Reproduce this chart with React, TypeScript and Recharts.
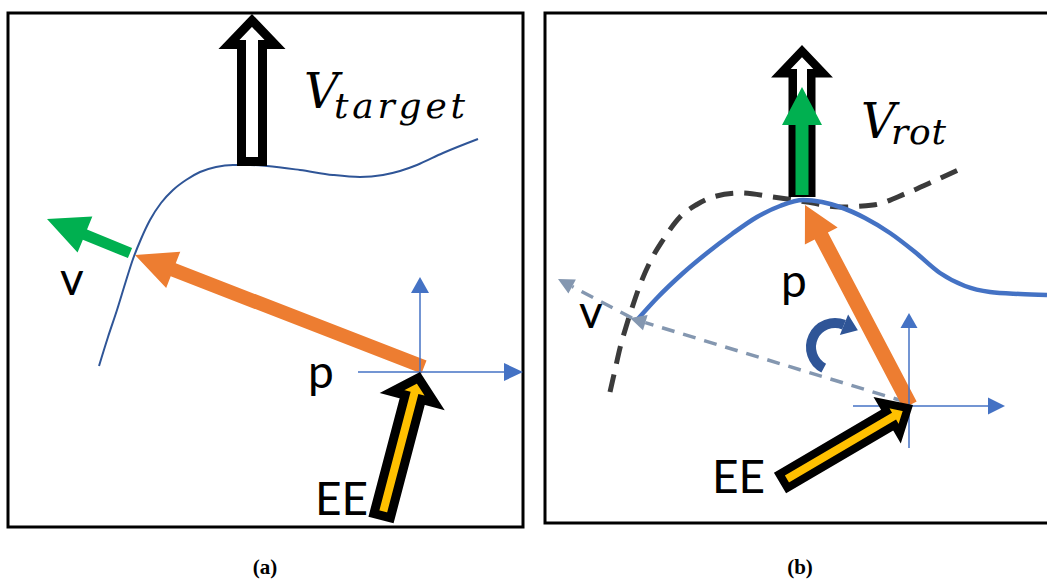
import { ComposedChart, Line, XAxis, YAxis, ReferenceLine, ReferenceArea, ReferenceDot } from "recharts";

type Pt = { x: number; y: number };

const W = 1047;
const H = 579;

// --- panel (a) ---
const curveA: Pt[] = [
  { x: 99, y: 366 }, { x: 108, y: 337 }, { x: 117, y: 310 }, { x: 125, y: 284 }, { x: 133, y: 259 },
  { x: 141, y: 239 }, { x: 150, y: 220 }, { x: 161, y: 203 }, { x: 173, y: 190 }, { x: 186, y: 180 },
  { x: 200, y: 172 }, { x: 216, y: 167 }, { x: 233, y: 165 }, { x: 250, y: 165 }, { x: 267, y: 166 },
  { x: 300, y: 170 }, { x: 333, y: 175 }, { x: 360, y: 177 }, { x: 383, y: 175 }, { x: 400, y: 171 },
  { x: 417, y: 165 }, { x: 443, y: 153 }, { x: 478, y: 139 },
];
const targetA: Pt[] = [{ x: 252, y: 166 }, { x: 252, y: 14 }];
const velA: Pt[] = [{ x: 130, y: 253 }, { x: 47, y: 219 }];
const posA: Pt[] = [{ x: 424, y: 367 }, { x: 135, y: 255 }];
const eeA: Pt[] = [{ x: 381, y: 520 }, { x: 420, y: 372 }];
const axisXA: Pt[] = [{ x: 358, y: 372 }, { x: 523, y: 372 }];
const axisYA: Pt[] = [{ x: 420, y: 417 }, { x: 420, y: 277 }];

// --- panel (b) ---
const curveB: Pt[] = [
  { x: 637, y: 320 }, { x: 657, y: 298 }, { x: 682, y: 274 }, { x: 707, y: 253 }, { x: 732, y: 234 },
  { x: 757, y: 217 }, { x: 780, y: 206 }, { x: 803, y: 200 }, { x: 822, y: 202 }, { x: 840, y: 207 },
  { x: 865, y: 218 }, { x: 890, y: 233 }, { x: 915, y: 252 }, { x: 940, y: 273 }, { x: 965, y: 286 },
  { x: 990, y: 292 }, { x: 1020, y: 294 }, { x: 1047, y: 295 },
];
const rotCurveB: Pt[] = [
  { x: 610, y: 392 }, { x: 615, y: 370 }, { x: 620, y: 348 }, { x: 626, y: 327 }, { x: 633, y: 305 },
  { x: 640, y: 285 }, { x: 650, y: 262 }, { x: 663, y: 240 }, { x: 680, y: 217 }, { x: 696, y: 205 },
  { x: 713, y: 197 }, { x: 740, y: 193 }, { x: 773, y: 197 }, { x: 807, y: 202 }, { x: 840, y: 207 },
  { x: 873, y: 205 }, { x: 907, y: 193 }, { x: 932, y: 182 }, { x: 958, y: 170 },
];
const targetB: Pt[] = [{ x: 802, y: 197 }, { x: 802, y: 45 }];
const velB: Pt[] = [{ x: 802, y: 195 }, { x: 802, y: 87 }];
const posB: Pt[] = [{ x: 910, y: 405 }, { x: 805, y: 205 }];
const eeB: Pt[] = [{ x: 780, y: 483 }, { x: 913, y: 405 }];
const axisXB: Pt[] = [{ x: 853, y: 406 }, { x: 1005, y: 406 }];
const axisYB: Pt[] = [{ x: 909, y: 448 }, { x: 909, y: 313 }];
const oldPosB: Pt[] = [{ x: 906, y: 402 }, { x: 630, y: 318 }];
const oldVelB: Pt[] = [{ x: 632, y: 318 }, { x: 558, y: 279 }];
const turnB: Pt = { x: 835, y: 347 };

// --- text ---
const sansLabels = [
  { x: 60, y: 295, text: "v" },
  { x: 308, y: 388, text: "p" },
  { x: 315, y: 515, text: "EE" },
  { x: 579, y: 328, text: "v" },
  { x: 781, y: 297, text: "p" },
  { x: 712, y: 493, text: "EE" },
];
const mathLabels = [
  { x: 304, y: 108, text: "V" },
  { x: 861, y: 138, text: "V" },
];
const subLabels = [
  { x: 334, y: 118, text: "target" },
  { x: 891, y: 144, text: "rot" },
];
const subWidth: Record<string, number> = { target: 131, rot: 55 };
const captions = [
  { x: 265, y: 574, text: "(a)" },
  { x: 800, y: 574, text: "(b)" },
];

function arrowPoly(x1: number, y1: number, x2: number, y2: number, w: number, hw: number, hl: number) {
  const dx = x2 - x1;
  const dy = y2 - y1;
  const len = Math.hypot(dx, dy) || 1;
  const ux = dx / len;
  const uy = dy / len;
  const nx = -uy;
  const ny = ux;
  const bx = x2 - ux * hl;
  const by = y2 - uy * hl;
  const p = (x: number, y: number, k: number) => `${x + nx * k},${y + ny * k}`;
  return [p(x1, y1, w / 2), p(bx, by, w / 2), p(bx, by, hw / 2), `${x2},${y2}`, p(bx, by, -hw / 2), p(bx, by, -w / 2), p(x1, y1, -w / 2)].join(" ");
}

const solidArrow = (color: string, w: number, hw: number, hl: number) => (props: any) => (
  <polygon points={arrowPoly(props.x1, props.y1, props.x2, props.y2, w, hw, hl)} fill={color} />
);

// outlined arrow: stroke sits on the polygon edge, so pull both ends in
const hollowArrow = (fill: string, w: number, hw: number, hl: number, border: number) => (props: any) => {
  const { x1, y1, x2, y2 } = props;
  const len = Math.hypot(x2 - x1, y2 - y1) || 1;
  const ux = (x2 - x1) / len;
  const uy = (y2 - y1) / len;
  const tipIn = border / 2 / Math.sin(Math.atan2(hw / 2, hl));
  const sx = x1 + ux * (border / 2);
  const sy = y1 + uy * (border / 2);
  const ex = x2 - ux * tipIn;
  const ey = y2 - uy * tipIn;
  return (
    <polygon
      points={arrowPoly(sx, sy, ex, ey, w, hw, hl)}
      fill={fill}
      stroke="#000"
      strokeWidth={border}
      strokeLinejoin="miter"
      strokeMiterlimit={10}
    />
  );
};

const lineArrow = (color: string, width: number, hw: number, hl: number, dash?: string) => (props: any) => {
  const { x1, y1, x2, y2 } = props;
  const len = Math.hypot(x2 - x1, y2 - y1) || 1;
  const ux = (x2 - x1) / len;
  const uy = (y2 - y1) / len;
  const bx = x2 - ux * hl;
  const by = y2 - uy * hl;
  return (
    <g>
      <line x1={x1} y1={y1} x2={bx} y2={by} stroke={color} strokeWidth={width} strokeDasharray={dash} />
      <polygon points={arrowPoly(bx, by, x2, y2, 0, hw, hl)} fill={color} />
    </g>
  );
};

const turnArrow = (props: any) => {
  const { cx, cy } = props;
  const r = 24;
  const a0 = (118 * Math.PI) / 180;
  const a1 = (292 * Math.PI) / 180;
  const sx = cx + r * Math.cos(a0);
  const sy = cy + r * Math.sin(a0);
  const ex = cx + r * Math.cos(a1);
  const ey = cy + r * Math.sin(a1);
  const tx = -Math.sin(a1);
  const ty = Math.cos(a1);
  const hl = 15;
  return (
    <g>
      <path d={`M${sx},${sy} A${r},${r} 0 0 1 ${ex},${ey}`} fill="none" stroke="#2F5597" strokeWidth={10} />
      <polygon points={arrowPoly(ex - tx, ey - ty, ex + tx * hl, ey + ty * hl, 0, 22, hl)} fill="#2F5597" />
    </g>
  );
};

const sansText = (text: string) => (props: any) => (
  <text x={props.cx} y={props.cy} fontFamily="Lato, 'Open Sans', sans-serif" fontSize={46} fill="#000">
    {text}
  </text>
);
const mathText = (text: string) => (props: any) => (
  <text x={props.cx} y={props.cy} fontFamily="'DejaVu Serif', serif" fontStyle="italic" fontSize={48} fill="#000">
    {text}
  </text>
);
const subText = (text: string) => (props: any) => (
  <text
    x={props.cx}
    y={props.cy}
    fontFamily="'DejaVu Serif', serif"
    fontStyle="italic"
    fontSize={36}
    fill="#000"
    textLength={subWidth[text]}
    lengthAdjust="spacing"
  >
    {text}
  </text>
);
const captionText = (text: string) => (props: any) => (
  <text x={props.cx} y={props.cy} textAnchor="middle" fontFamily="'Liberation Serif', serif" fontWeight="bold" fontSize={21} fill="#000">
    {text}
  </text>
);

export default function App() {
  return (
    <div style={{ position: "absolute", left: 0, top: 0, width: W, height: H, background: "#fff" }}>
      <ComposedChart width={W} height={H} margin={{ top: 0, right: 0, bottom: 0, left: 0 }}>
        <XAxis type="number" dataKey="x" domain={[0, W]} allowDataOverflow hide />
        <YAxis type="number" dataKey="y" domain={[0, H]} reversed allowDataOverflow hide />

        <ReferenceArea x1={8} x2={523} y1={13} y2={527} fill="none" fillOpacity={0} stroke="#000" strokeWidth={3} ifOverflow="visible" />
        <ReferenceArea x1={545} x2={1070} y1={13} y2={523} fill="none" fillOpacity={0} stroke="#000" strokeWidth={3} ifOverflow="visible" />

        <Line data={curveA} dataKey="y" type="monotone" stroke="#2F5597" strokeWidth={2} dot={false} activeDot={false} isAnimationActive={false} />
        <Line data={rotCurveB} dataKey="y" type="monotone" stroke="#3B3B3B" strokeWidth={5} strokeDasharray="18 11" dot={false} activeDot={false} isAnimationActive={false} />
        <Line data={curveB} dataKey="y" type="monotone" stroke="#4472C4" strokeWidth={4.5} dot={false} activeDot={false} isAnimationActive={false} />

        {/* panel (a) vectors */}
        <ReferenceLine segment={targetA} shape={hollowArrow("#fff", 21, 46, 24, 9)} />
        <ReferenceLine segment={velA} shape={solidArrow("#00B050", 11, 39, 41)} />
        <ReferenceLine segment={posA} shape={solidArrow("#ED7D31", 14, 39, 41)} />
        <ReferenceLine segment={axisXA} shape={lineArrow("#4472C4", 1.5, 18, 19)} />
        <ReferenceLine segment={axisYA} shape={lineArrow("#4472C4", 1.5, 18, 16)} />
        <ReferenceLine segment={eeA} shape={hollowArrow("#FFC000", 17, 44, 20, 9)} />

        {/* panel (b) vectors */}
        <ReferenceLine segment={oldPosB} shape={lineArrow("#8497B0", 3.5, 16, 16, "13 9")} />
        <ReferenceLine segment={oldVelB} shape={lineArrow("#8497B0", 3.5, 16, 16, "13 9")} />
        <ReferenceLine segment={targetB} shape={hollowArrow("#fff", 18.5, 42, 22, 8.5)} />
        <ReferenceLine segment={velB} shape={solidArrow("#00B050", 13, 40, 38)} />
        <ReferenceLine segment={posB} shape={solidArrow("#ED7D31", 15, 37, 35)} />
        <ReferenceLine segment={axisXB} shape={lineArrow("#4472C4", 1.5, 17, 17)} />
        <ReferenceLine segment={axisYB} shape={lineArrow("#4472C4", 1.5, 17, 15)} />
        <ReferenceLine segment={eeB} shape={hollowArrow("#FFC000", 16, 36, 20, 8)} />
        <ReferenceDot x={turnB.x} y={turnB.y} r={0} shape={turnArrow} />

        {sansLabels.map((l, i) => (
          <ReferenceDot key={`s${i}`} x={l.x} y={l.y} r={0} shape={sansText(l.text)} />
        ))}
        {mathLabels.map((l, i) => (
          <ReferenceDot key={`m${i}`} x={l.x} y={l.y} r={0} shape={mathText(l.text)} />
        ))}
        {subLabels.map((l, i) => (
          <ReferenceDot key={`u${i}`} x={l.x} y={l.y} r={0} shape={subText(l.text)} />
        ))}
        {captions.map((l, i) => (
          <ReferenceDot key={`c${i}`} x={l.x} y={l.y} r={0} shape={captionText(l.text)} />
        ))}
      </ComposedChart>
    </div>
  );
}
